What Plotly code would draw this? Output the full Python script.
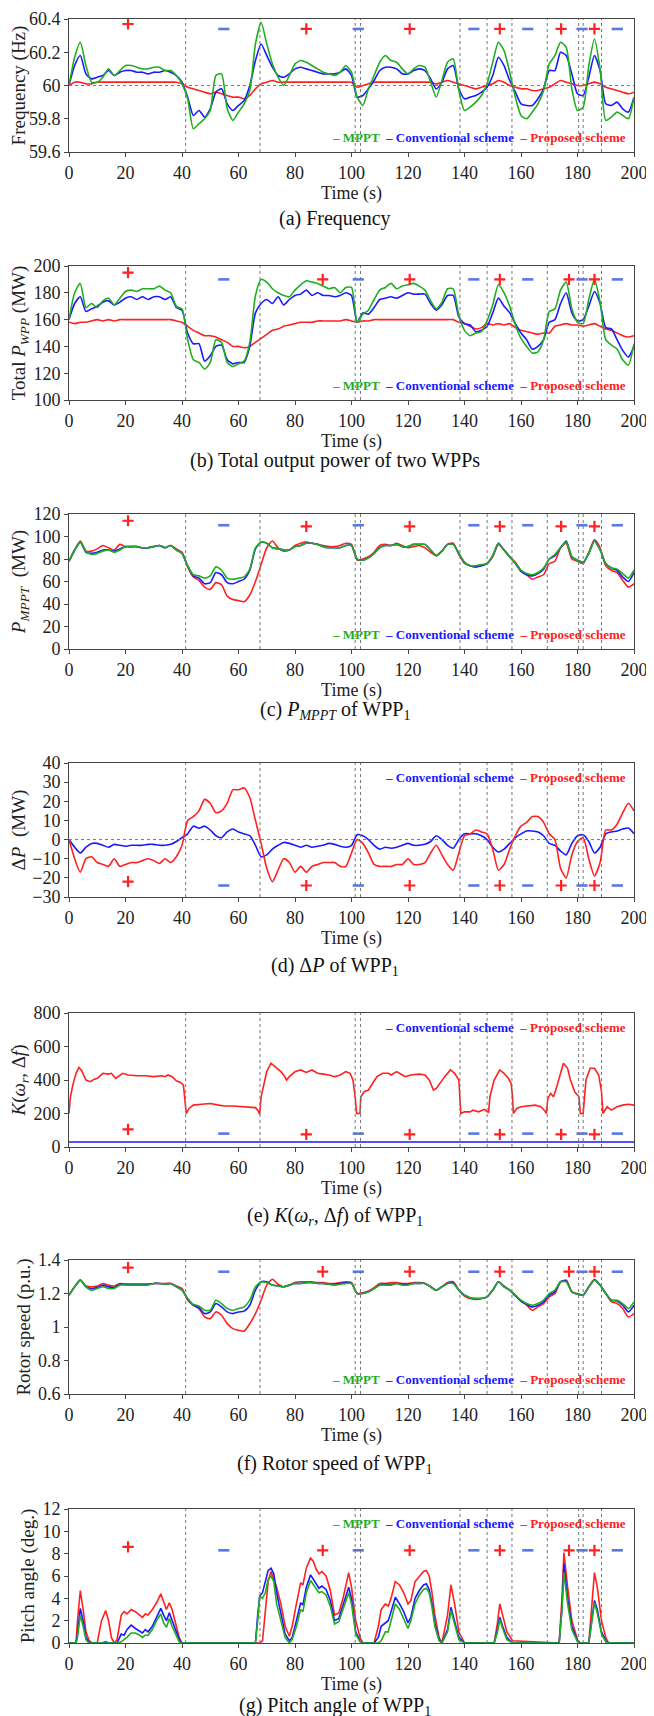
import plotly.graph_objects as go

# time base (s) shared by most panels
time_s = [0, 2, 4, 6, 8, 10, 12, 14, 16, 18, 20, 22, 24, 26, 28, 30, 32, 34, 36, 38,
          40, 42, 44, 46, 48, 50, 52, 54, 56, 58, 60, 62, 64, 66, 68, 70, 72, 74, 76, 78,
          80, 82, 84, 86, 88, 90, 92, 94, 96, 98, 100, 102, 104, 106, 108, 110, 112, 114, 116, 118,
          120, 122, 124, 126, 128, 130, 132, 134, 136, 138, 140, 142, 144, 146, 148, 150, 152, 154, 156, 158,
          160, 162, 164, 166, 168, 170, 172, 174, 176, 178, 180, 182, 184, 186, 188, 190, 192, 194, 196, 198,
          200]

event_times = [41.3, 67.6, 101.3, 103.2, 138.4, 148.0, 156.8, 169.3, 180.4, 182.0, 188.5]

# (a) frequency
freq_mppt = [60.00, 60.17, 60.26, 60.12, 60.02, 60.02, 60.05, 60.10, 60.06, 60.09,
             60.12, 60.12, 60.11, 60.10, 60.10, 60.11, 60.11, 60.09, 60.09, 60.06,
             60.01, 59.92, 59.74, 59.77, 59.80, 59.85, 60.06, 60.07, 59.86, 59.79,
             59.84, 59.89, 59.97, 60.25, 60.38, 60.25, 60.13, 60.05, 60.00, 60.06,
             60.13, 60.15, 60.14, 60.12, 60.10, 60.08, 60.07, 60.06, 60.08, 60.12,
             60.08, 59.93, 59.88, 59.98, 60.06, 60.14, 60.18, 60.15, 60.14, 60.10,
             60.07, 60.10, 60.12, 60.11, 60.02, 59.93, 60.03, 60.14, 60.16, 59.97,
             59.85, 59.87, 59.90, 59.94, 60.01, 60.14, 60.26, 60.21, 60.08, 59.93,
             59.82, 59.80, 59.84, 59.89, 59.97, 60.13, 60.18, 60.26, 60.23, 59.98,
             59.85, 59.87, 60.12, 60.28, 60.10, 59.79, 59.81, 59.84, 59.82, 59.80,
             59.93]
freq_conv = [60.00, 60.12, 60.18, 60.07, 60.04, 60.05, 60.06, 60.09, 60.06, 60.08,
             60.09, 60.09, 60.08, 60.08, 60.07, 60.08, 60.08, 60.09, 60.08, 60.06,
             60.02, 59.93, 59.82, 59.85, 59.81, 59.86, 59.96, 59.98, 59.89, 59.85,
             59.88, 59.91, 60.00, 60.15, 60.25, 60.18, 60.11, 60.06, 60.05, 60.07,
             60.10, 60.11, 60.10, 60.09, 60.08, 60.07, 60.07, 60.07, 60.08, 60.10,
             60.06, 59.93, 59.94, 59.98, 60.03, 60.09, 60.11, 60.11, 60.10, 60.07,
             60.07, 60.09, 60.10, 60.09, 60.04, 59.98, 60.02, 60.10, 60.12, 59.98,
             59.92, 59.93, 59.94, 59.96, 59.99, 60.06, 60.17, 60.12, 60.03, 59.96,
             59.89, 59.88, 59.88, 59.92, 59.98, 60.09, 60.09, 60.20, 60.18, 60.07,
             59.95, 59.94, 60.05, 60.18, 60.09, 59.89, 59.88, 59.90, 59.86, 59.84,
             59.93]
freq_prop = [60.00, 60.02, 60.02, 60.01, 60.01, 60.02, 60.02, 60.02, 60.02, 60.02,
             60.02, 60.02, 60.02, 60.02, 60.02, 60.02, 60.02, 60.02, 60.02, 60.02,
             60.01, 59.99, 59.98, 59.97, 59.96, 59.95, 59.96, 59.95, 59.94, 59.93,
             59.93, 59.92, 59.94, 59.98, 60.01, 60.02, 60.03, 60.02, 60.02, 60.02,
             60.02, 60.02, 60.02, 60.02, 60.02, 60.02, 60.02, 60.02, 60.02, 60.02,
             60.02, 59.99, 60.00, 60.01, 60.02, 60.02, 60.02, 60.02, 60.02, 60.02,
             60.02, 60.02, 60.02, 60.02, 60.02, 60.01, 60.02, 60.03, 60.02, 60.01,
             60.00, 59.99, 59.98, 59.99, 60.00, 60.01, 60.03, 60.02, 60.00, 59.99,
             59.98, 59.98, 59.97, 59.97, 59.98, 59.99, 60.01, 60.03, 60.02, 60.01,
             60.00, 60.00, 60.01, 60.02, 60.01, 59.99, 59.98, 59.97, 59.96, 59.95,
             59.96]

# (b) total output power of two WPPs (MW)
pwpp_mppt = [160, 180, 187, 169, 172, 169, 174, 176, 171, 176,
             181, 182, 181, 183, 183, 183, 185, 182, 180, 170,
             168, 145, 130, 128, 123, 128, 145, 143, 128, 125,
             127, 129, 143, 178, 190, 188, 183, 180, 178, 177,
             182, 186, 189, 188, 187, 185, 183, 184, 180, 184,
             184, 158, 164, 167, 175, 182, 184, 187, 183, 185,
             186, 187, 185, 182, 174, 168, 173, 183, 183, 163,
             152, 148, 150, 151, 159, 171, 186, 180, 170, 156,
             146, 140, 135, 136, 145, 166, 168, 182, 188, 168,
             158, 157, 175, 190, 173, 145, 141, 138, 130, 126,
             142]
pwpp_conv = [160, 172, 177, 166, 168, 170, 173, 174, 171, 173,
             176, 177, 175, 177, 175, 177, 177, 175, 177, 169,
             167, 150, 142, 142, 129, 133, 140, 141, 130, 127,
             128, 128, 140, 165, 172, 175, 172, 177, 171, 175,
             178, 179, 182, 178, 180, 178, 178, 177, 178, 180,
             178, 158, 165, 164, 169, 175, 176, 177, 176, 178,
             180, 179, 179, 179, 172, 167, 171, 178, 178, 162,
             157, 156, 151, 152, 155, 165, 176, 170, 165, 157,
             150, 145, 138, 140, 145, 158, 160, 172, 180, 165,
             159, 160, 170, 181, 172, 154, 153, 145, 137, 132,
             140]
pwpp_prop = [158, 157, 158, 158, 159, 160, 159, 160, 159, 160,
             160, 160, 160, 160, 160, 160, 160, 160, 160, 159,
             158, 155, 152, 150, 148, 148, 147, 145, 143, 140,
             140, 139, 140, 143, 146, 149, 152, 153, 155, 156,
             157, 158, 158, 158, 159, 159, 159, 159, 159, 160,
             159, 158, 159, 159, 160, 160, 160, 160, 160, 160,
             160, 160, 160, 160, 160, 160, 160, 160, 160, 158,
             157, 155, 153, 154, 157, 156, 157, 156, 157, 154,
             152, 151, 150, 149, 150, 150, 155, 156, 157, 156,
             156, 155, 156, 157, 155, 153, 152, 150, 148, 147,
             148]

# (c) P_MPPT of WPP1 (MW)
pmppt_mppt = [78, 88, 95, 87, 84, 85, 87, 88, 86, 88,
              91, 91, 91, 90, 90, 91, 92, 90, 92, 88,
              85, 74, 66, 65, 63, 65, 73, 70, 63, 62,
              63, 64, 71, 90, 95, 94, 90, 89, 88, 88,
              91, 92, 94, 94, 93, 91, 90, 90, 90, 92,
              92, 80, 79, 81, 85, 90, 92, 92, 93, 91,
              91, 93, 93, 93, 88, 83, 87, 93, 93, 85,
              77, 74, 74, 75, 76, 83, 94, 88, 82, 76,
              70, 67, 66, 68, 72, 80, 84, 90, 95, 82,
              79, 77, 85, 96, 88, 76, 72, 71, 67, 63,
              70]
pmppt_conv = [78, 88, 95, 86, 85, 86, 88, 88, 87, 89,
              91, 91, 91, 90, 90, 91, 92, 90, 92, 88,
              85, 74, 65, 63, 58, 59, 68, 66, 59, 58,
              60, 62, 70, 89, 95, 94, 90, 89, 88, 88,
              91, 92, 94, 94, 93, 91, 90, 90, 90, 92,
              92, 80, 79, 81, 85, 90, 92, 92, 93, 91,
              91, 93, 93, 93, 88, 83, 87, 93, 93, 85,
              77, 74, 73, 74, 76, 83, 94, 88, 82, 76,
              69, 66, 65, 67, 71, 80, 83, 90, 96, 82,
              79, 77, 85, 96, 88, 76, 72, 70, 64, 60,
              68]
pmppt_prop = [78, 88, 96, 87, 87, 89, 92, 90, 88, 93,
              91, 91, 91, 90, 90, 91, 92, 90, 92, 89,
              86, 73, 64, 61, 55, 53, 59, 57, 47, 44,
              43, 42, 48, 60, 75, 90, 96, 90, 87, 88,
              92, 94, 95, 94, 93, 92, 91, 91, 92, 94,
              93, 79, 80, 82, 86, 92, 93, 92, 94, 92,
              90, 91, 92, 90, 86, 83, 87, 93, 94, 84,
              76, 74, 73, 74, 76, 82, 93, 88, 82, 77,
              70, 66, 62, 64, 66, 76, 78, 90, 94, 80,
              78, 76, 86, 97, 90, 74, 70, 68, 61, 55,
              58]

# (d) delta P of WPP1 (MW)
dp_conv = [0, -4, -7, -4, -2, -2, -3, -4, -2.5, -3,
           -3.5, -3, -3, -3, -2.5, -2.5, -3, -3, -2.5, -1,
           1, 3, 7, 6, 7, 5, 2, 1, 4, 5.5,
           4, 3, 2, -3, -9, -8, -5, -3, -1.5, -2,
           -3, -4, -3, -4, -3.5, -3, -2, -2.5, -3.5, -4,
           -3, 2.5, 2, 0, -3, -5, -4, -4.5, -4, -3,
           -2, -3, -3, -2.5, -1, 2, 0, -3, -4.5, 0,
           3, 3, 3, 2, 0, -4, -6.5, -5, -2, 1,
           3, 4.5, 4.5, 4, 2, -2, -3, -6, -8, -2,
           2, 2.5, -1, -7, -4, 3, 4, 4.5, 5.5, 6,
           3]
dp_prop = [0, -10, -17, -10, -9, -12, -13, -14, -10, -14,
           -13, -12, -12, -11, -10, -11, -12.5, -10, -12, -9,
           -3, 10, 12, 15, 21, 19, 14, 15, 19, 26,
           26, 27, 22, 10, -2, -15, -22, -16, -10, -12,
           -17, -14, -17, -14, -13, -12, -12, -12, -14, -14,
           -7, 0, -2, -7, -13, -14, -14, -14, -13, -13,
           -10, -13, -13, -12, -7, -3, -8, -13, -16, -7,
           2, 3, 5, 4, 3, -5, -16, -13, -5, 2,
           7, 9, 12, 12, 9, 3, 0, -15, -20, -8,
           -1, 1, -10, -19, -12, 5, 5, 8, 14, 19,
           15]

# (e) K(wr, df) of WPP1
k_time = [0, 0.5, 1.5, 2.5, 3.5, 4.5, 6, 7.5, 9, 10, 11, 12, 14, 15, 16.5, 17.5, 19, 21, 24, 27,
          30, 33, 34, 35, 36.5, 38, 39.5, 40.5, 41, 41.5, 42.5, 44, 47, 50, 53, 55, 58, 62, 64, 66,
          67, 67.5, 68, 69, 70, 71.5, 73, 75, 76, 77, 78, 80, 82, 84, 86, 88, 90, 92, 94, 96,
          98, 99.5, 100.5, 101.3, 101.8, 103, 103.3, 104.5, 106, 107.5, 109, 111, 113, 114, 116, 118, 119, 121, 124, 126,
          127.5, 129, 130, 133, 135, 136.5, 138, 138.7, 140, 142, 143, 145, 147, 148.5, 149, 150.5, 152.5, 154, 155.5, 156.5,
          157, 157.3, 158.5, 160, 163, 165, 167, 168.5, 169, 169.5, 170.5, 171.5, 172.5, 174, 175, 176.5, 177.5, 179, 180, 180.5,
          181, 182, 183, 184.5, 186, 187.5, 188.5, 189, 190.5, 192, 194, 196, 198, 200]
k_prop = [200, 300, 380, 440, 475, 455, 400, 390, 405, 410, 425, 440, 435, 440, 410, 420, 440, 430, 425, 425,
          420, 425, 420, 430, 420, 395, 385, 370, 300, 200, 230, 250, 255, 260, 250, 245, 245, 240, 240, 235,
          215, 195, 300, 380, 450, 500, 480, 450, 430, 400, 420, 450, 460, 445, 460, 440, 435, 430, 420, 430,
          450, 440, 400, 300, 200, 200, 300, 330, 340, 380, 420, 440, 440, 430, 450, 430, 420, 430, 435, 430,
          400, 340, 350, 420, 460, 440, 400, 200, 210, 210, 220, 210, 225, 205, 300, 400, 460, 440, 410, 380,
          300, 200, 230, 240, 245, 250, 240, 215, 200, 290, 320, 300, 350, 450, 500, 470, 400, 330, 310, 300,
          200, 200, 400, 470, 470, 430, 330, 200, 240, 220, 240, 250, 255, 250]
k_conv_time = [0, 200]
k_conv = [30, 30]

# (f) rotor speed of WPP1 (p.u.)
wr_mppt = [1.19, 1.24, 1.28, 1.24, 1.22, 1.23, 1.24, 1.23, 1.23, 1.25,
           1.25, 1.25, 1.25, 1.25, 1.25, 1.26, 1.26, 1.255, 1.26, 1.24,
           1.22, 1.17, 1.135, 1.125, 1.10, 1.10, 1.16, 1.14, 1.11, 1.10,
           1.11, 1.12, 1.16, 1.24, 1.27, 1.265, 1.25, 1.245, 1.24, 1.25,
           1.26, 1.26, 1.265, 1.265, 1.26, 1.26, 1.255, 1.25, 1.255, 1.26,
           1.26, 1.20, 1.20, 1.21, 1.23, 1.25, 1.25, 1.25, 1.26, 1.25,
           1.25, 1.26, 1.26, 1.26, 1.24, 1.22, 1.24, 1.26, 1.26, 1.22,
           1.19, 1.175, 1.17, 1.17, 1.18, 1.22, 1.27, 1.24, 1.22, 1.19,
           1.16, 1.14, 1.13, 1.14, 1.16, 1.20, 1.22, 1.27, 1.27, 1.21,
           1.195, 1.19, 1.24, 1.28, 1.25, 1.20, 1.16, 1.16, 1.14, 1.11,
           1.15]
wr_conv = [1.19, 1.24, 1.28, 1.24, 1.23, 1.235, 1.25, 1.24, 1.235, 1.255,
           1.255, 1.255, 1.255, 1.255, 1.255, 1.26, 1.26, 1.255, 1.26, 1.24,
           1.22, 1.17, 1.13, 1.115, 1.08, 1.09, 1.14, 1.12, 1.09, 1.08,
           1.09, 1.095, 1.13, 1.22, 1.27, 1.27, 1.25, 1.245, 1.24, 1.25,
           1.26, 1.26, 1.265, 1.265, 1.26, 1.26, 1.255, 1.255, 1.26, 1.265,
           1.26, 1.20, 1.20, 1.21, 1.23, 1.25, 1.255, 1.255, 1.26, 1.255,
           1.255, 1.26, 1.26, 1.26, 1.24, 1.22, 1.24, 1.26, 1.265, 1.22,
           1.19, 1.175, 1.17, 1.17, 1.18, 1.22, 1.27, 1.24, 1.22, 1.185,
           1.155, 1.135, 1.12, 1.13, 1.15, 1.19, 1.21, 1.27, 1.275, 1.21,
           1.195, 1.19, 1.24, 1.28, 1.25, 1.20, 1.16, 1.155, 1.13, 1.09,
           1.13]
wr_prop = [1.19, 1.24, 1.28, 1.245, 1.24, 1.245, 1.26, 1.25, 1.245, 1.26,
           1.255, 1.255, 1.255, 1.255, 1.255, 1.26, 1.26, 1.26, 1.26, 1.245,
           1.23, 1.16, 1.13, 1.11, 1.06, 1.05, 1.09, 1.07, 1.02, 0.99,
           0.98, 0.975, 1.02, 1.08, 1.16, 1.25, 1.285, 1.255, 1.24, 1.25,
           1.265, 1.27, 1.27, 1.27, 1.265, 1.265, 1.26, 1.26, 1.265, 1.27,
           1.265, 1.20, 1.205, 1.215, 1.235, 1.26, 1.26, 1.265, 1.265, 1.26,
           1.26, 1.265, 1.265, 1.26, 1.24, 1.22, 1.24, 1.265, 1.27, 1.22,
           1.185, 1.17, 1.165, 1.17, 1.18, 1.22, 1.27, 1.245, 1.22, 1.19,
           1.155, 1.13, 1.10, 1.12, 1.14, 1.18, 1.20, 1.27, 1.28, 1.21,
           1.20, 1.19, 1.24, 1.285, 1.25, 1.20, 1.15, 1.14, 1.11, 1.06,
           1.08]

# (g) pitch angle of WPP1 (deg.)
pitch_time = [0, 2.5, 3, 4, 5, 6, 7, 8, 10, 11.5,
              13, 14, 15, 16, 17, 18.5, 19.5, 20.5, 22, 23.5,
              25, 26, 27, 28, 29.5, 31, 32.5, 33.5, 34.5, 35.5,
              36.5, 38, 39, 40, 66, 66.8, 67.5, 68.5, 69.5, 70.5,
              71.5, 72.5, 73.5, 75, 76.5, 78, 79, 80.5, 82, 82.8,
              84, 85.5, 86.5, 87.5, 88.5, 89.5, 91, 92.5, 94, 95.5,
              97, 99, 100, 101.5, 103, 104, 108, 109.5, 110.5, 112,
              113, 114, 115.5, 117, 118.5, 120, 121, 122.5, 124, 125.5,
              126.5, 127.5, 128.5, 129.5, 131, 132, 134, 135.2, 136.5, 138,
              140, 150.5, 151.5, 152.5, 153.5, 155, 157, 173.5, 174.5, 175.2,
              176.5, 178, 180, 181, 184, 185, 186, 187, 188.5, 190,
              191, 200]
pitch_prop = [0, 0, 2.0, 4.7, 3.0, 1.0, 0.3, 0, 0, 2.0,
              2.9, 2.0, 0.5, 0, 0.3, 2.5, 2.8, 2.6, 3.0, 2.8,
              2.5, 2.3, 2.6, 2.5, 3.0, 3.6, 4.4, 3.6, 3.0, 3.6,
              3.0, 1.5, 0.5, 0, 0, 0, 0, 0.2, 3.0, 5.5,
              6.4, 5.6, 5.0, 3.5, 1.5, 0.6, 1.5, 3.5, 5.4, 5.2,
              6.7, 7.6, 7.3, 6.6, 6.2, 6.4, 6.0, 4.7, 2.5, 2.7,
              4.0, 6.3, 5.0, 2.0, 0.5, 0, 0, 1.5, 3.0, 3.5,
              3.3, 4.0, 5.5, 5.2, 4.5, 3.5, 3.8, 5.5, 6.0, 6.4,
              6.5, 6.0, 4.5, 2.5, 0.5, 0, 2.5, 5.2, 3.5, 1.0,
              0, 0, 1.5, 3.5, 2.5, 1.0, 0.2, 0, 4.0, 8.1,
              5.0, 2.0, 0.3, 0, 0, 3.0, 6.3, 5.0, 2.0, 0.5,
              0, 0]
pitch_conv = [0, 0, 0.8, 3.1, 2.0, 0.5, 0.1, 0, 0, 0,
              0.1, 0, 0, 0, 0, 0.8, 0.7, 1.2, 1.6, 1.3,
              1.1, 0.9, 1.2, 1.0, 1.5, 2.3, 3.1, 2.5, 2.0, 2.7,
              2.0, 1.0, 0.3, 0, 0, 2.5, 4.2, 4.5, 5.5, 6.5,
              6.7, 6.2, 4.5, 2.5, 0.8, 0.2, 0.5, 2.0, 3.6, 3.4,
              5.0, 6.1, 5.7, 5.3, 4.9, 5.1, 4.8, 3.8, 2.0, 2.2,
              3.5, 5.0, 4.0, 1.0, 0.2, 0, 0, 0.5, 1.5, 1.8,
              2.0, 2.8, 4.1, 3.5, 2.8, 1.8, 2.3, 4.0, 4.7, 5.2,
              5.3, 4.8, 3.5, 1.8, 0.3, 0, 1.2, 3.2, 2.0, 0.5,
              0, 0, 1.0, 2.3, 1.5, 0.5, 0, 0, 3.0, 7.1,
              4.0, 1.5, 0.2, 0, 0, 2.0, 3.8, 3.0, 1.0, 0.2,
              0, 0]
pitch_mppt = [0, 0, 0.5, 2.5, 1.5, 0.3, 0, 0, 0, 0,
              0, 0, 0, 0, 0, 0.1, 0.3, 0.5, 0.9, 0.9,
              0.7, 0.5, 0.7, 0.7, 1.2, 2.0, 2.6, 1.8, 1.4, 2.2,
              1.5, 0.6, 0.1, 0, 0, 2.0, 4.2, 4.0, 4.5, 5.7,
              6.0, 5.5, 3.5, 2.0, 0.5, 0, 0.3, 1.5, 3.0, 2.8,
              4.5, 5.6, 5.2, 4.8, 4.5, 4.6, 4.3, 3.3, 1.7, 1.9,
              3.0, 4.5, 3.5, 0.8, 0.1, 0, 0, 0, 0.2, 1.0,
              1.0, 2.0, 3.5, 3.0, 2.2, 1.3, 2.0, 3.5, 4.3, 4.8,
              4.9, 4.5, 3.2, 1.5, 0.2, 0, 1.0, 2.9, 1.7, 0.3,
              0, 0, 0.8, 2.1, 1.3, 0.3, 0, 0, 3.0, 6.3,
              3.5, 1.2, 0.1, 0, 0, 1.8, 3.6, 2.7, 0.8, 0.1,
              0, 0]

# "+" / "-" period marks
plus_t_a = [20.9, 84, 120.6, 152.5, 174.2, 186]
plus_t_b = [20.9, 89.8, 120.6, 152.5, 177.0, 186]
minus_t = [54.8, 102.4, 143.3, 162.4, 181.6, 194.1]
plus_y = {
    "a": [60.37, 60.34, 60.34, 60.34, 60.34, 60.34],
    "b": [195, 190, 190, 190, 190, 190],
    "c": [114, 109, 109, 109, 109, 109],
    "d": [-22, -24, -24, -24, -24, -24],
    "e": [105, 75, 75, 75, 75, 75],
    "f": [1.355, 1.33, 1.33, 1.33, 1.33, 1.33],
    "g": [8.6, 8.3, 8.3, 8.3, 8.3, 8.3],
}
minus_y = {
    "a": [60.34] * 6, "b": [190] * 6, "c": [110] * 6, "d": [-24] * 6,
    "e": [80] * 6, "f": [1.33] * 6, "g": [8.3] * 6,
}

GREEN = "#1fae1f"
BLUE = "#1a1aff"
RED = "#ff2020"
MINUS_BLUE = "#5a78e6"
FONT = "Liberation Serif"
W, H = 654, 1716
X_L, X_R = 61, 626

panels = [
    dict(key="a", top=11, bottom=144, cap_y=210, yr=[59.6, 60.4], dt=0.2,
         ytitle="Frequency (Hz)", cap="(a) Frequency",
         series=[(time_s, freq_prop, RED), (time_s, freq_conv, BLUE), (time_s, freq_mppt, GREEN)],
         legend="bottom3", plus=plus_t_a, hline=60),
    dict(key="b", top=258, bottom=392, cap_y=452, yr=[100, 200], dt=20,
         ytitle="Total <i>P</i><sub><i>WPP</i></sub> (MW)", cap="(b) Total output power of two WPPs",
         series=[(time_s, pwpp_prop, RED), (time_s, pwpp_conv, BLUE), (time_s, pwpp_mppt, GREEN)],
         legend="bottom3", plus=plus_t_b, hline=None),
    dict(key="c", top=506, bottom=641, cap_y=702, yr=[0, 120], dt=20,
         ytitle="<i>P</i><sub><i>MPPT</i></sub>  (MW)", cap="(c) <i>P</i><sub><i>MPPT</i></sub> of WPP<sub>1</sub>",
         series=[(time_s, pmppt_prop, RED), (time_s, pmppt_conv, BLUE), (time_s, pmppt_mppt, GREEN)],
         legend="bottom3", plus=plus_t_a, hline=None),
    dict(key="d", top=755, bottom=889, cap_y=958, yr=[-30, 40], dt=10,
         ytitle="Δ<i>P</i>  (MW)", cap="(d) Δ<i>P</i> of WPP<sub>1</sub>",
         series=[(time_s, dp_conv, BLUE), (time_s, dp_prop, RED)],
         legend="top2", plus=plus_t_a, hline=0),
    dict(key="e", top=1005, bottom=1139, cap_y=1208, yr=[0, 800], dt=200,
         ytitle="<i>K</i>(<i>ω</i><sub><i>r</i></sub>, Δ<i>f</i>)",
         cap="(e) <i>K</i>(<i>ω</i><sub><i>r</i></sub>, Δ<i>f</i>) of WPP<sub>1</sub>",
         series=[(k_conv_time, k_conv, BLUE), (k_time, k_prop, RED)],
         legend="top2", plus=plus_t_a, hline=None),
    dict(key="f", top=1252, bottom=1386, cap_y=1456, yr=[0.6, 1.4], dt=0.2,
         ytitle="Rotor speed (p.u.)", cap="(f) Rotor speed of WPP<sub>1</sub>",
         series=[(time_s, wr_prop, RED), (time_s, wr_conv, BLUE), (time_s, wr_mppt, GREEN)],
         legend="bottom3", plus=plus_t_b, hline=None),
    dict(key="g", top=1501, bottom=1635, cap_y=1698, yr=[0, 12], dt=2,
         ytitle="Pitch angle (deg.)", cap="(g) Pitch angle of WPP<sub>1</sub>",
         series=[(pitch_time, pitch_prop, RED), (pitch_time, pitch_conv, BLUE), (pitch_time, pitch_mppt, GREEN)],
         legend="top3", plus=plus_t_b, hline=None),
]

leg_m = '<span style="color:%s">–&nbsp;MPPT</span>' % GREEN
leg_c = '<span style="color:%s">–&nbsp;Conventional scheme</span>' % BLUE
leg_p = '<span style="color:%s">–&nbsp;Proposed scheme</span>' % RED
GAP = "&nbsp;&nbsp;"

fig = go.Figure()
layout = dict(
    width=W, height=H, autosize=False,
    margin=dict(l=0, r=0, t=0, b=0),
    paper_bgcolor="white", plot_bgcolor="white",
    font=dict(family=FONT, color="#222", size=18),
    showlegend=False,
)
shapes = []
annotations = []

for i, p in enumerate(panels, start=1):
    sfx = "" if i == 1 else str(i)
    xa, ya = "x" + sfx, "y" + sfx
    linear = p["key"] in ("e", "g")
    for tx, ty, col in p["series"]:
        fig.add_trace(go.Scatter(
            x=tx, y=ty, mode="lines", xaxis=xa, yaxis=ya,
            line=dict(color=col, width=1.6, shape="linear" if linear else "spline", smoothing=0.6),
            hoverinfo="skip",
        ))
    fig.add_trace(go.Scatter(
        x=p["plus"], y=plus_y[p["key"]], mode="markers", xaxis=xa, yaxis=ya,
        marker=dict(symbol="cross-thin", size=8, color=RED, line=dict(width=2.2, color=RED)),
        hoverinfo="skip",
    ))
    fig.add_trace(go.Scatter(
        x=minus_t, y=minus_y[p["key"]], mode="markers", xaxis=xa, yaxis=ya,
        marker=dict(symbol="line-ew", size=8, color=MINUS_BLUE, line=dict(width=2.6, color=MINUS_BLUE)),
        hoverinfo="skip",
    ))

    y0 = 1 - p["bottom"] / H
    y1 = 1 - p["top"] / H
    layout["xaxis" + sfx] = dict(
        domain=[X_L / W, X_R / W], anchor=ya, range=[0, 200], dtick=20,
        showline=True, linecolor="#444", linewidth=1, mirror=True,
        ticks="outside", ticklen=4, tickcolor="#444", showgrid=False, zeroline=False,
        tickfont=dict(size=18), automargin=False,
        title=dict(text="Time (s)", font=dict(size=18), standoff=1),
    )
    layout["yaxis" + sfx] = dict(
        domain=[y0, y1], anchor=xa, range=p["yr"], dtick=p["dt"],
        showline=True, linecolor="#444", linewidth=1, mirror=True,
        ticks="outside", ticklen=4, tickcolor="#444", showgrid=False, zeroline=False,
        tickfont=dict(size=18), automargin=False,
        title=dict(text=p["ytitle"], font=dict(size=19), standoff=2),
    )

    for t in event_times:
        shapes.append(dict(type="line", xref=xa, yref=ya + " domain", x0=t, x1=t, y0=0, y1=1,
                           line=dict(color="#777", width=1, dash="dot")))
    if p["hline"] is not None:
        shapes.append(dict(type="line", xref=xa + " domain", yref=ya, x0=0, x1=1,
                           y0=p["hline"], y1=p["hline"], line=dict(color="#777", width=1, dash="dot")))

    if p["legend"] == "bottom3":
        txt, ly, yanc = leg_m + GAP + leg_c + GAP + leg_p, 0.04, "bottom"
    elif p["legend"] == "top3":
        txt, ly, yanc = leg_m + GAP + leg_c + GAP + leg_p, 0.96, "top"
    else:
        txt, ly, yanc = leg_c + GAP + leg_p, 0.96, "top"
    annotations.append(dict(
        text="<b>" + txt + "</b>", xref=xa + " domain", yref=ya + " domain",
        x=0.99, y=ly, xanchor="right", yanchor=yanc, showarrow=False,
        font=dict(size=13, family=FONT),
    ))
    annotations.append(dict(
        text=p["cap"], xref="paper", yref="paper", x=0.5, y=1 - p["cap_y"] / H,
        xanchor="center", yanchor="middle", showarrow=False,
        font=dict(size=20, family=FONT, color="#111"),
    ))

layout["shapes"] = shapes
layout["annotations"] = annotations
fig.update_layout(**layout)

fig.write_html("out.html")
